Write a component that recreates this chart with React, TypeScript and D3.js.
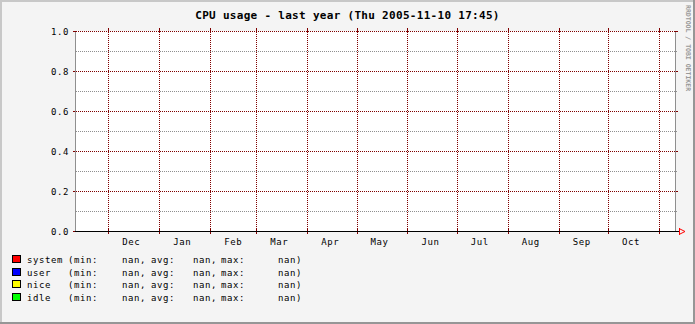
import React from "react";
import * as d3 from "d3";

const TITLE = "CPU usage - last year (Thu 2005-11-10 17:45)";
const WATERMARK = "RRDTOOL / TOBI OETIKER";
const START = Date.UTC(2004, 10, 10, 17, 45);
const END = Date.UTC(2005, 10, 10, 17, 45);

const seriesNames = ["system", "user", "nice", "idle"];
const seriesColors = ["#ff0000", "#0000ff", "#ffff00", "#00ff00"];
const seriesMin = [NaN, NaN, NaN, NaN];
const seriesAvg = [NaN, NaN, NaN, NaN];
const seriesMax = [NaN, NaN, NaN, NaN];

const yMajorTicks = [0, 0.2, 0.4, 0.6, 0.8, 1.0];
const yMinorTicks = [0.1, 0.3, 0.5, 0.7, 0.9];
const yTickLabels = ["0.0", "0.2", "0.4", "0.6", "0.8", "1.0"];
const monthLabels = ["Dec", "Jan", "Feb", "Mar", "Apr", "May", "Jun", "Jul", "Aug", "Sep", "Oct"];

const W = 695;
const H = 324;
const L = 75;
const R = 675;
const T = 31;
const B = 231;

const MGRID = "#800000";
const GRID = "#8f8f8f";
const FONT = "'DejaVu Sans Mono', monospace";

const fmt = (v: number) => (isNaN(v) ? "nan" : v.toFixed(2));

export default function App() {
  const x = d3.scaleUtc().domain([new Date(START), new Date(END)]).range([L, R]);
  const y = d3.scaleLinear().domain([0, 1]).range([B, T]);
  const months = d3.utcMonth.range(new Date(START), new Date(END));
  const labelDates = months.slice(0, monthLabels.length).map((m) => new Date(Date.UTC(m.getUTCFullYear(), m.getUTCMonth(), 15)));
  const ip = (v: number) => Math.round(v);
  const px = (v: number) => ip(v) + 0.5;

  const legendX = [27, 68, 122, 151, 193, 221, 278];
  const rowTop = [255, 268, 280, 293];

  return (
    <svg width={W} height={H} style={{ position: "absolute", left: 0, top: 0, display: "block" }}>
      <defs>
        <pattern id="hR" width={2} height={1} patternUnits="userSpaceOnUse">
          <rect x={0} y={0} width={1} height={1} fill={MGRID} />
        </pattern>
        <pattern id="hG" width={2} height={1} patternUnits="userSpaceOnUse">
          <rect x={0} y={0} width={1} height={1} fill={GRID} />
        </pattern>
        <pattern id="vR" width={1} height={2} patternUnits="userSpaceOnUse">
          <rect x={0} y={0} width={1} height={1} fill={MGRID} />
        </pattern>
      </defs>
      <rect x={0} y={0} width={W} height={H} fill="#f4f4f4" />
      {/* shades */}
      <rect x={0} y={0} width={W} height={2} fill="#c8c8c8" />
      <rect x={0} y={0} width={2} height={H} fill="#c8c8c8" />
      <rect x={0} y={H - 2} width={W} height={2} fill="#969696" />
      <rect x={W - 2} y={0} width={2} height={H} fill="#969696" />

      {/* canvas */}
      <rect x={L} y={T} width={R - L} height={B - T} fill="#ffffff" />

      <g shapeRendering="crispEdges">
        {/* minor horizontal grid (dotted) */}
        {yMinorTicks.map((t) => (
          <rect key={"mi" + t} x={L + 1} y={ip(y(t))} width={R - L + 2} height={1} fill="url(#hG)" />
        ))}
        {/* vertical month grid (dotted) */}
        {months.map((m, i) => (
          <rect key={"vd" + i} x={ip(x(m))} y={T + 2} width={1} height={B - T - 2} fill="url(#vR)" />
        ))}
        {/* major horizontal grid (dotted) */}
        {yMajorTicks.filter((t) => t > 0).map((t) => (
          <rect key={"md" + t} x={L + 1} y={ip(y(t))} width={R - L - 1} height={1} fill="url(#hR)" />
        ))}

        {months.map((m, i) => {
          const xx = px(x(m));
          return (
            <g key={"vt" + i}>
              <line x1={xx} x2={xx} y1={T - 3} y2={T + 2} stroke={MGRID} />
              <line x1={xx} x2={xx} y1={B - 2} y2={B + 3} stroke={MGRID} />
            </g>
          );
        })}
        {yMajorTicks.map((t) => {
          const yy = px(y(t));
          return (
            <g key={"mt" + t}>
              <line x1={L - 2} x2={L + 1} y1={yy} y2={yy} stroke={MGRID} />
              <line x1={R} x2={R + 3} y1={yy} y2={yy} stroke={MGRID} />
            </g>
          );
        })}
        {/* left / right frame */}
        <line x1={L + 0.5} x2={L + 0.5} y1={T + 1} y2={B} stroke={GRID} />
        <line x1={R + 0.5} x2={R + 0.5} y1={T + 1} y2={B} stroke={GRID} />
        {/* x axis */}
        <line x1={L} x2={R + 4} y1={B + 0.5} y2={B + 0.5} stroke="#000000" />
        {/* arrow stem */}
        <line x1={R + 4.5} x2={R + 4.5} y1={B - 3} y2={B + 4} stroke="#ff0000" />
      </g>
      <path d={`M${R + 5},${B - 2} L${R + 10},${B + 0.5} L${R + 5},${B + 3}`} fill="none" stroke="#ff0000" strokeWidth={1} />

      {/* y labels */}
      {yMajorTicks.map((t, i) => (
        <text key={"yl" + t} x={69} y={y(t) + 3.5} textAnchor="end" fontFamily={FONT} fontSize={9} letterSpacing={0.6} fill="#000">
          {yTickLabels[i]}
        </text>
      ))}

      {/* x labels */}
      {labelDates.map((d, i) => (
        <text key={"xl" + i} x={x(d)} y={244.5} textAnchor="middle" fontFamily={FONT} fontSize={9} letterSpacing={0.6} fill="#000">
          {monthLabels[i]}
        </text>
      ))}

      {/* title */}
      <text x={W / 2} y={18.5} textAnchor="middle" fontFamily={FONT} fontWeight="bold" fontSize={11} letterSpacing={0.3} fill="#000">
        {TITLE}
      </text>

      {/* watermark */}
      <text transform="translate(686,5) rotate(90)" fontFamily={FONT} fontWeight="bold" fontSize={6.5} fill="#999999">
        {WATERMARK}
      </text>

      {/* legend */}
      {seriesNames.map((name, i) => {
        const top = rowTop[i];
        const base = top + 7.5;
        const parts = [name, "(min:", fmt(seriesMin[i]) + ",", "avg:", fmt(seriesAvg[i]) + ",", "max:", fmt(seriesMax[i]) + ")"];
        return (
          <g key={"lg" + name}>
            <rect x={12.5} y={top + 0.5} width={8} height={7} fill={seriesColors[i]} stroke="#000" strokeWidth={1} shapeRendering="crispEdges" />
            {parts.map((p, j) => (
              <text key={j} x={legendX[j]} y={base} fontFamily={FONT} fontSize={9} letterSpacing={0.6} fill="#000">
                {p}
              </text>
            ))}
          </g>
        );
      })}
    </svg>
  );
}
